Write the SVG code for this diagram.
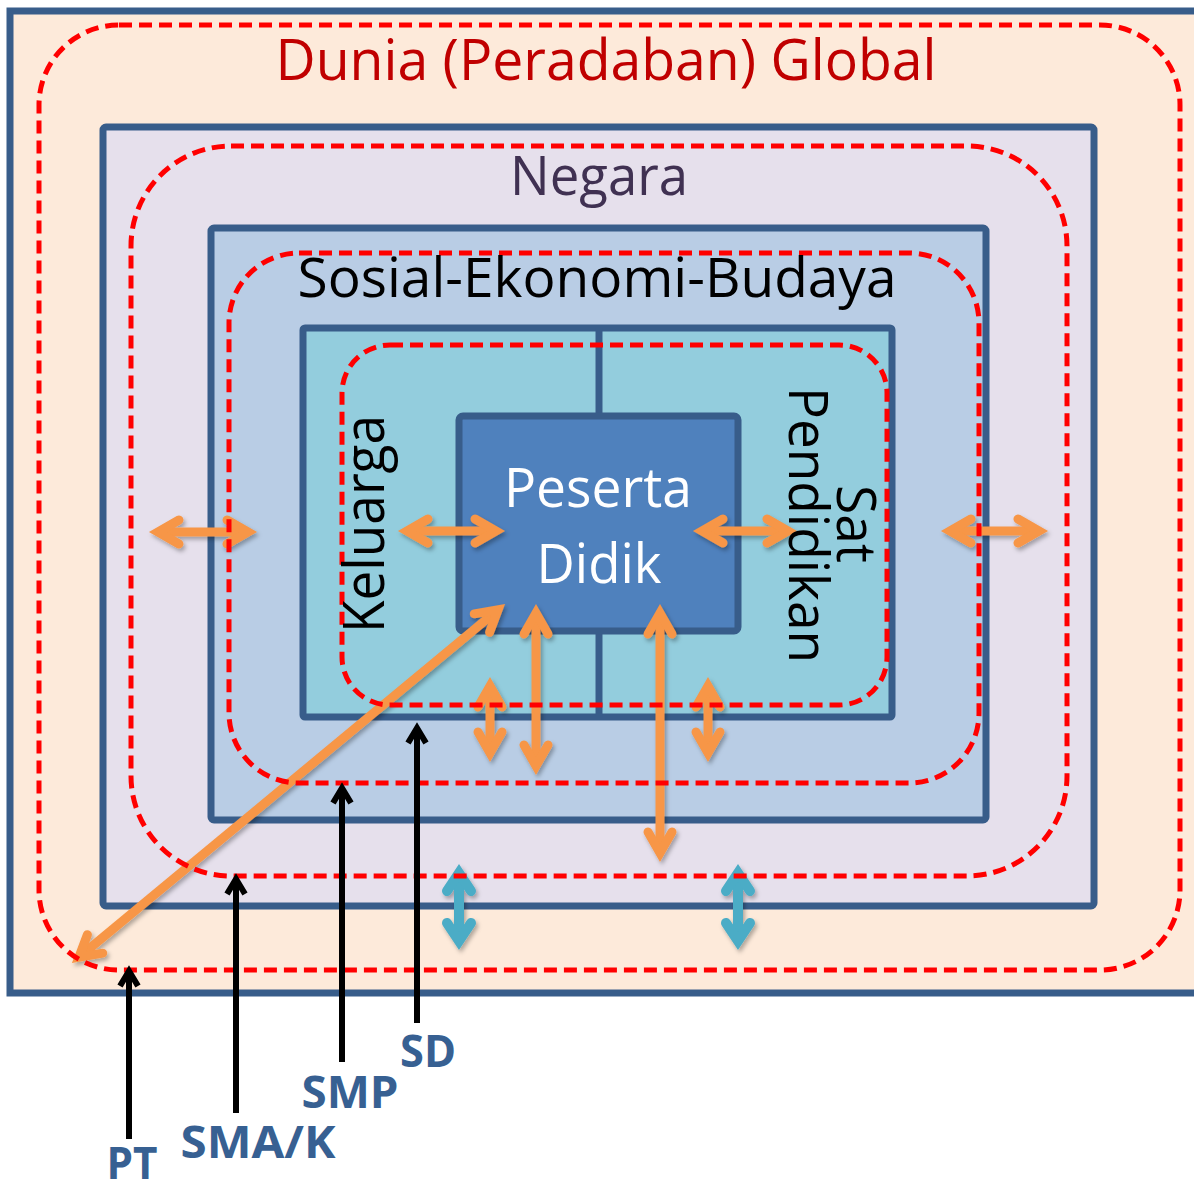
<svg xmlns="http://www.w3.org/2000/svg" width="1194" height="1190" viewBox="0 0 1194 1190">
  <style>
    .box { stroke: #385D8A; stroke-width: 7; }
    .dash { fill: none; stroke: #FF0000; stroke-width: 5; stroke-dasharray: 13 7; }
    .or { stroke: #F79646; stroke-width: 9; fill: none; marker-start: url(#mo); marker-end: url(#mo); }
    .cy { stroke: #4BACC6; stroke-width: 10; fill: none; marker-start: url(#mc); marker-end: url(#mc); }
    .bk { stroke: #000000; stroke-width: 6; fill: none; marker-end: url(#mb); }
    .t { font-family: "Open Sans", "Liberation Sans", sans-serif; text-anchor: middle; }
    .lbl { font-family: "Open Sans", "Liberation Sans", sans-serif; font-weight: bold; fill: #376092; font-size: 44px; text-anchor: middle; }
  </style>
  <defs>
    <marker id="mo" markerUnits="userSpaceOnUse" orient="auto-start-reverse" refX="0" refY="0" markerWidth="1" markerHeight="1" overflow="visible">
      <path d="M -21 -12 L 0 0 L -21 12" fill="none" stroke="#F79646" stroke-width="9" stroke-linecap="round" stroke-linejoin="miter"/>
    </marker>
    <marker id="mc" markerUnits="userSpaceOnUse" orient="auto-start-reverse" refX="0" refY="0" markerWidth="1" markerHeight="1" overflow="visible">
      <path d="M -18 -12 L 0 0 L -18 12" fill="none" stroke="#4BACC6" stroke-width="10" stroke-linecap="round" stroke-linejoin="miter"/>
    </marker>
    <marker id="mb" markerUnits="userSpaceOnUse" orient="auto" refX="0" refY="0" markerWidth="1" markerHeight="1" overflow="visible">
      <path d="M -15 -9 L 0 0 L -15 9" fill="none" stroke="#000000" stroke-width="6" stroke-linecap="butt" stroke-linejoin="miter"/>
    </marker>
    <filter id="sh" x="-20%" y="-20%" width="140%" height="140%">
      <feDropShadow dx="2" dy="3" stdDeviation="2" flood-color="#000" flood-opacity="0.3"/>
    </filter>
  </defs>

  <rect width="1194" height="1190" fill="#FFFFFF"/>

  <g id="dunia">
    <rect class="box" x="10" y="11" width="1200" height="982" fill="#FDEADA"/>
  </g>
  <g id="negara">
    <rect class="box" x="103" y="127" width="991" height="779" rx="3" fill="#E6E0EC"/>
  </g>
  <g id="sosial">
    <rect class="box" x="211" y="228" width="775" height="592" rx="3" fill="#B9CDE5"/>
  </g>
  <g id="keluarga-sat">
    <rect class="box" x="303" y="328" width="589" height="389" rx="2" fill="#93CDDD"/>
    <line class="box" x1="599" y1="328" x2="599" y2="416"/>
    <line class="box" x1="599" y1="631" x2="599" y2="717"/>
  </g>
  <g id="peserta">
    <rect class="box" x="459" y="416" width="279" height="215" rx="4" fill="#4F81BD"/>
  </g>

  <g id="connectors">
    <g filter="url(#sh)">
      <line class="or" x1="158" y1="532" x2="248" y2="532"/>
      <line class="or" x1="407" y1="531" x2="496" y2="531"/>
      <line class="or" x1="702" y1="531" x2="788" y2="531"/>
      <line class="or" x1="950" y1="531" x2="1039" y2="531"/>
      <line class="or" x1="490" y1="686" x2="490" y2="753"/>
      <line class="or" x1="536" y1="613" x2="536" y2="766"/>
      <line class="or" x1="660" y1="613" x2="660" y2="853"/>
      <line class="or" x1="708" y1="686" x2="708" y2="753"/>
      <line class="or" x1="78.9" y1="957.3" x2="498.1" y2="609.7"/>
      <line class="cy" x1="459" y1="873" x2="459" y2="941"/>
      <line class="cy" x1="738" y1="873" x2="738" y2="941"/>
    </g>
  </g>

  <g id="boundaries">
    <rect class="dash" x="39" y="25" width="1141" height="945" rx="80"/>
    <rect class="dash" x="131" y="146" width="936" height="730" rx="100"/>
    <rect class="dash" x="229" y="253" width="750" height="530" rx="70"/>
    <rect class="dash" x="342" y="345" width="545" height="360" rx="48"/>
  </g>

  <g id="level-arrows">
    <line class="bk" x1="129" y1="1139" x2="129" y2="971"/>
    <line class="bk" x1="236" y1="1113" x2="236" y2="879"/>
    <line class="bk" x1="342" y1="1062" x2="342" y2="788"/>
    <line class="bk" x1="417" y1="1023" x2="417" y2="728"/>
  </g>

  <g id="labels">
    <text class="t" x="606" y="80" font-size="56" fill="#C00000" textLength="661" lengthAdjust="spacingAndGlyphs">Dunia (Peradaban) Global</text>
    <text class="t" x="599" y="195" font-size="54" fill="#403152" textLength="178" lengthAdjust="spacingAndGlyphs">Negara</text>
    <text class="t" x="597" y="297" font-size="54" fill="#000000" textLength="599" lengthAdjust="spacingAndGlyphs">Sosial-Ekonomi-Budaya</text>
    <text class="t" x="598" y="507" font-size="54" fill="#FFFFFF" textLength="188" lengthAdjust="spacingAndGlyphs">Peserta</text>
    <text class="t" x="599" y="583" font-size="54" fill="#FFFFFF" textLength="125" lengthAdjust="spacingAndGlyphs">Didik</text>
    <text class="t" transform="translate(384,524) rotate(-90)" font-size="56" fill="#000000" textLength="218" lengthAdjust="spacingAndGlyphs">Keluarga</text>
    <text class="t" transform="translate(837,524) rotate(90)" font-size="55" fill="#000000" textLength="78" lengthAdjust="spacingAndGlyphs">Sat</text>
    <text class="t" transform="translate(789,525) rotate(90)" font-size="55" fill="#000000" textLength="276" lengthAdjust="spacingAndGlyphs">Pendidikan</text>
    <text class="lbl" x="428" y="1067" textLength="56" lengthAdjust="spacingAndGlyphs">SD</text>
    <text class="lbl" x="350" y="1108" textLength="97" lengthAdjust="spacingAndGlyphs">SMP</text>
    <text class="lbl" x="258" y="1158" textLength="155" lengthAdjust="spacingAndGlyphs">SMA/K</text>
    <text class="lbl" x="132" y="1179" font-size="41" textLength="51" lengthAdjust="spacingAndGlyphs">PT</text>
  </g>
</svg>
